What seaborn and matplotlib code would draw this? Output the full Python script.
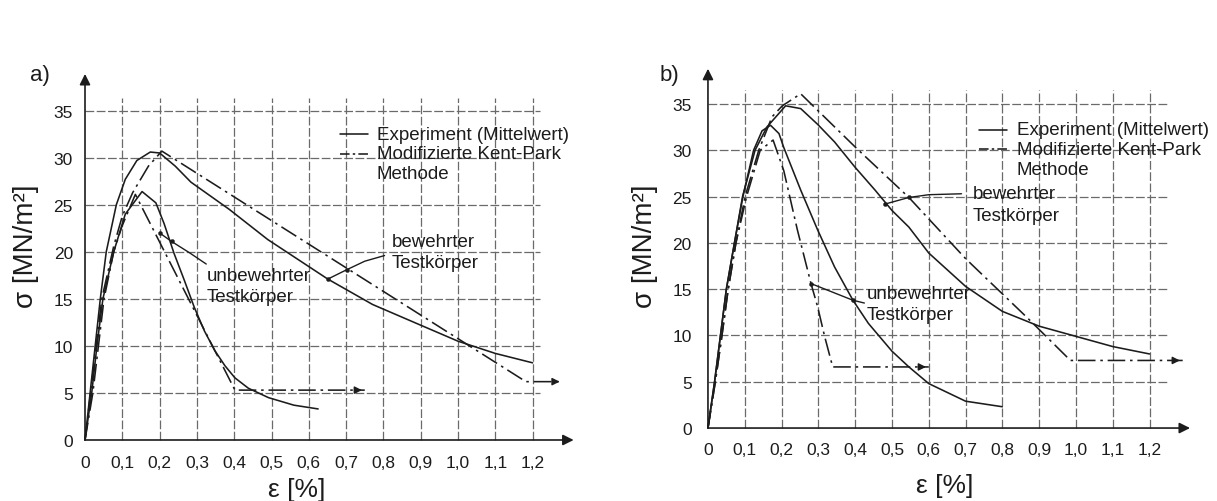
import matplotlib
matplotlib.use("Agg")
import matplotlib.pyplot as plt
import seaborn as sns
import pandas as pd

# ---------------- data: panel a ----------------
a_bew_exp_x = [0, 0.041, 0.057, 0.084, 0.108, 0.139, 0.175, 0.2, 0.242, 0.284, 0.387, 0.49, 0.651, 0.771, 0.9, 1.0, 1.1, 1.2]
a_bew_exp_y = [0, 15, 20, 25, 27.7, 29.7, 30.6, 30.5, 29.1, 27.4, 24.5, 21.3, 17.1, 14.4, 12.2, 10.5, 9.2, 8.2]
a_bew_kp_x = [0, 0.045, 0.077, 0.1, 0.128, 0.17, 0.206, 1.182, 1.28]
a_bew_kp_y = [0, 15, 20.6, 23.8, 26.3, 29.1, 30.7, 6.2, 6.2]
a_unb_exp_x = [0, 0.018, 0.032, 0.048, 0.077, 0.108, 0.153, 0.19, 0.212, 0.239, 0.266, 0.293, 0.32, 0.348, 0.375, 0.402, 0.438, 0.492, 0.56, 0.625]
a_unb_exp_y = [0, 5, 10, 15, 20, 24, 26.4, 25.2, 23.0, 19.8, 17.0, 14.1, 11.6, 9.5, 7.9, 6.6, 5.5, 4.5, 3.7, 3.3]
a_unb_kp_x = [0, 0.021, 0.036, 0.051, 0.077, 0.099, 0.135, 0.402, 0.75]
a_unb_kp_y = [0, 5, 10, 15, 20, 22.7, 26.1, 5.3, 5.3]
a_unb_ptr_x = [0.2, 0.232, 0.28, 0.325]
a_unb_ptr_y = [22.0, 21.1, 19.9, 18.7]
a_bew_ptr_x = [0.651, 0.702, 0.75, 0.803]
a_bew_ptr_y = [17.1, 18.1, 19.0, 19.6]

# ---------------- data: panel b ----------------
b_bew_exp_x = [0, 0.018, 0.034, 0.05, 0.072, 0.094, 0.128, 0.16, 0.211, 0.252, 0.298, 0.344, 0.399, 0.454, 0.5, 0.546, 0.6, 0.7, 0.8, 0.9, 1.0, 1.1, 1.2]
b_bew_exp_y = [0, 5, 10, 15, 20, 25, 30, 32.5, 34.8, 34.5, 32.8, 30.9, 28.2, 25.7, 23.5, 21.7, 18.9, 15.3, 12.6, 11.0, 9.9, 8.8, 8.0]
b_bew_kp_x = [0, 0.02, 0.038, 0.055, 0.076, 0.101, 0.138, 0.174, 0.202, 0.252, 0.404, 0.546, 0.7, 0.868, 0.985, 1.29]
b_bew_kp_y = [0, 5, 10, 15, 20, 25, 30, 33.6, 34.8, 36.1, 30.2, 24.9, 18.3, 11.9, 7.3, 7.3]
b_unb_exp_x = [0, 0.018, 0.034, 0.05, 0.072, 0.095, 0.124, 0.147, 0.17, 0.193, 0.206, 0.252, 0.298, 0.344, 0.394, 0.436, 0.5, 0.546, 0.6, 0.7, 0.8]
b_unb_exp_y = [0, 5, 10, 15, 20, 25, 30, 32.1, 32.7, 31.8, 30.3, 25.7, 21.4, 17.4, 13.8, 11.3, 8.3, 6.6, 4.8, 2.9, 2.3]
b_unb_kp_x = [0, 0.02, 0.038, 0.055, 0.076, 0.105, 0.142, 0.177, 0.206, 0.243, 0.28, 0.298, 0.317, 0.339, 0.6]
b_unb_kp_y = [0, 5, 10, 15, 20, 25, 30, 31.1, 27.8, 21.4, 15.6, 13.1, 9.9, 6.6, 6.6]
b_unb_ptr_x = [0.28, 0.394, 0.425]
b_unb_ptr_y = [15.6, 13.8, 13.5]
b_bew_ptr_x = [0.482, 0.546, 0.6, 0.689]
b_bew_ptr_y = [24.2, 24.9, 25.2, 25.3]

x_ticks = [0, 0.1, 0.2, 0.3, 0.4, 0.5, 0.6, 0.7, 0.8, 0.9, 1.0, 1.1, 1.2]
x_labels = ["0", "0,1", "0,2", "0,3", "0,4", "0,5", "0,6", "0,7", "0,8", "0,9", "1,0", "1,1", "1,2"]
y_ticks = [0, 5, 10, 15, 20, 25, 30, 35]
y_labels = ["0", "5", "10", "15", "20", "25", "30", "35"]

legend_texts = ["Experiment (Mittelwert)", "Modifizierte Kent-Park", "Methode"]

sns.set_style("white")
plt.rcParams["font.family"] = ["Liberation Sans", "DejaVu Sans"]

INK = "#1c1c1c"
DASHDOT = (0, (11, 3, 1.6, 3))
GRID = "#6a6a6a"
TXT = 13.5

fig = plt.figure(figsize=(12.17, 5.02), dpi=100)
ax_a = fig.add_axes([0.06678, 0.1159, 0.4107, 0.7367])
ax_b = fig.add_axes([0.5787, 0.1398, 0.4052, 0.7249])


def curve(ax, xs, ys, ls, lw=1.15):
    df = pd.DataFrame({"eps": xs, "sig": ys})
    sns.lineplot(data=df, x="eps", y="sig", ax=ax, sort=False, estimator=None,
                 color=INK, linestyle=ls, linewidth=lw, legend=False)


def end_arrow(ax, xs, ys):
    ax.annotate("", xy=(xs[-1], ys[-1]), xytext=(xs[-1] - 0.035, ys[-1]),
                arrowprops=dict(arrowstyle="-|>", color=INK, lw=1.0,
                                mutation_scale=11))


def pointer(ax, xs, ys):
    df = pd.DataFrame({"eps": xs, "sig": ys})
    sns.lineplot(data=df, x="eps", y="sig", ax=ax, sort=False, estimator=None,
                 color=INK, linewidth=1.0, legend=False)
    sns.scatterplot(x=xs[:2], y=ys[:2], ax=ax, color=INK, s=9, legend=False,
                    edgecolor=INK)


def setup(ax, grid_xmax, grid_ymax, yarrow, xarrow, ypad, xpad):
    ax.set_xlim(-0.01, 1.33)
    ax.set_ylim(-0.3, 39)
    for s in ax.spines.values():
        s.set_visible(False)
    ax.hlines(y_ticks[1:], 0, grid_xmax, colors=GRID, linestyles=(0, (7, 2)), linewidth=0.9, zorder=0)
    ax.vlines(x_ticks[1:], 0, grid_ymax, colors=GRID, linestyles=(0, (7, 2)), linewidth=0.9, zorder=0)
    ax.set_xticks(x_ticks)
    ax.set_xticklabels(x_labels)
    ax.set_yticks(y_ticks)
    ax.set_yticklabels(y_labels)
    ax.tick_params(axis="x", length=0, pad=xpad, labelsize=12.5, colors=INK)
    ax.tick_params(axis="y", length=0, pad=ypad, labelsize=12.5, colors=INK)
    ax.annotate("", xy=(xarrow, 0), xytext=(0, 0),
                arrowprops=dict(arrowstyle="-|>", color=INK, lw=1.2, mutation_scale=16,
                                shrinkA=0, shrinkB=0))
    ax.annotate("", xy=(0, yarrow), xytext=(0, 0),
                arrowprops=dict(arrowstyle="-|>", color=INK, lw=1.2, mutation_scale=16,
                                shrinkA=0, shrinkB=0))


def legend_block(ax, x0, x1, xt, ys):
    ax.plot([x0, x1], [ys[0], ys[0]], color=INK, lw=1.15)
    ax.plot([x0, x1], [ys[1], ys[1]], color=INK, lw=1.15, linestyle=(0, (6, 2, 1.5, 2)))
    for t, yy in zip(legend_texts, ys):
        ax.text(xt, yy, t, fontsize=TXT, va="center", ha="left", color=INK)


# ---------------- panel a ----------------
setup(ax_a, 1.22, 36.3, 38.9, 1.31, 6, 9)
curve(ax_a, a_bew_exp_x, a_bew_exp_y, "-")
curve(ax_a, a_bew_kp_x, a_bew_kp_y, DASHDOT)
curve(ax_a, a_unb_exp_x, a_unb_exp_y, "-")
curve(ax_a, a_unb_kp_x, a_unb_kp_y, DASHDOT)
end_arrow(ax_a, a_bew_kp_x, a_bew_kp_y)
end_arrow(ax_a, a_unb_kp_x, a_unb_kp_y)
pointer(ax_a, a_unb_ptr_x, a_unb_ptr_y)
pointer(ax_a, a_bew_ptr_x, a_bew_ptr_y)
ax_a.text(0.327, 17.5, "unbewehrter", fontsize=TXT, va="center", ha="left", color=INK)
ax_a.text(0.327, 15.3, "Testkörper", fontsize=TXT, va="center", ha="left", color=INK)
ax_a.text(0.822, 21.1, "bewehrter", fontsize=TXT, va="center", ha="left", color=INK)
ax_a.text(0.822, 18.9, "Testkörper", fontsize=TXT, va="center", ha="left", color=INK)
legend_block(ax_a, 0.684, 0.759, 0.782, [32.5, 30.4, 28.3])

# ---------------- panel b ----------------
setup(ax_b, 1.25, 36.5, 38.8, 1.31, 9, 8)
curve(ax_b, b_bew_exp_x, b_bew_exp_y, "-")
curve(ax_b, b_bew_kp_x, b_bew_kp_y, DASHDOT)
curve(ax_b, b_unb_exp_x, b_unb_exp_y, "-")
curve(ax_b, b_unb_kp_x, b_unb_kp_y, DASHDOT)
end_arrow(ax_b, b_bew_kp_x, b_bew_kp_y)
end_arrow(ax_b, b_unb_kp_x, b_unb_kp_y)
pointer(ax_b, b_unb_ptr_x, b_unb_ptr_y)
pointer(ax_b, b_bew_ptr_x, b_bew_ptr_y)
ax_b.text(0.431, 14.5, "unbewehrter", fontsize=TXT, va="center", ha="left", color=INK)
ax_b.text(0.431, 12.3, "Testkörper", fontsize=TXT, va="center", ha="left", color=INK)
ax_b.text(0.72, 25.3, "bewehrter", fontsize=TXT, va="center", ha="left", color=INK)
ax_b.text(0.72, 23.0, "Testkörper", fontsize=TXT, va="center", ha="left", color=INK)
legend_block(ax_b, 0.736, 0.813, 0.839, [32.2, 30.1, 27.9])

for ax in (ax_a, ax_b):
    ax.set_xlabel("")
    ax.set_ylabel("")

# ---------------- labels ----------------
fig.text(26 / 1217, 1 - 246 / 502, "σ [MN/m²]", rotation=90, ha="center", va="center", fontsize=20, color=INK)
fig.text(645 / 1217, 1 - 246 / 502, "σ [MN/m²]", rotation=90, ha="center", va="center", fontsize=20, color=INK)
fig.text(297 / 1217, 1 - 490 / 502, "ε [%]", ha="center", va="center", fontsize=19, color=INK)
fig.text(945 / 1217, 1 - 486 / 502, "ε [%]", ha="center", va="center", fontsize=19, color=INK)
fig.text(30 / 1217, 1 - 75 / 502, "a)", ha="left", va="center", fontsize=16, color=INK)
fig.text(660 / 1217, 1 - 75 / 502, "b)", ha="left", va="center", fontsize=16, color=INK)

fig.savefig("out.png", dpi=100, facecolor="white")
